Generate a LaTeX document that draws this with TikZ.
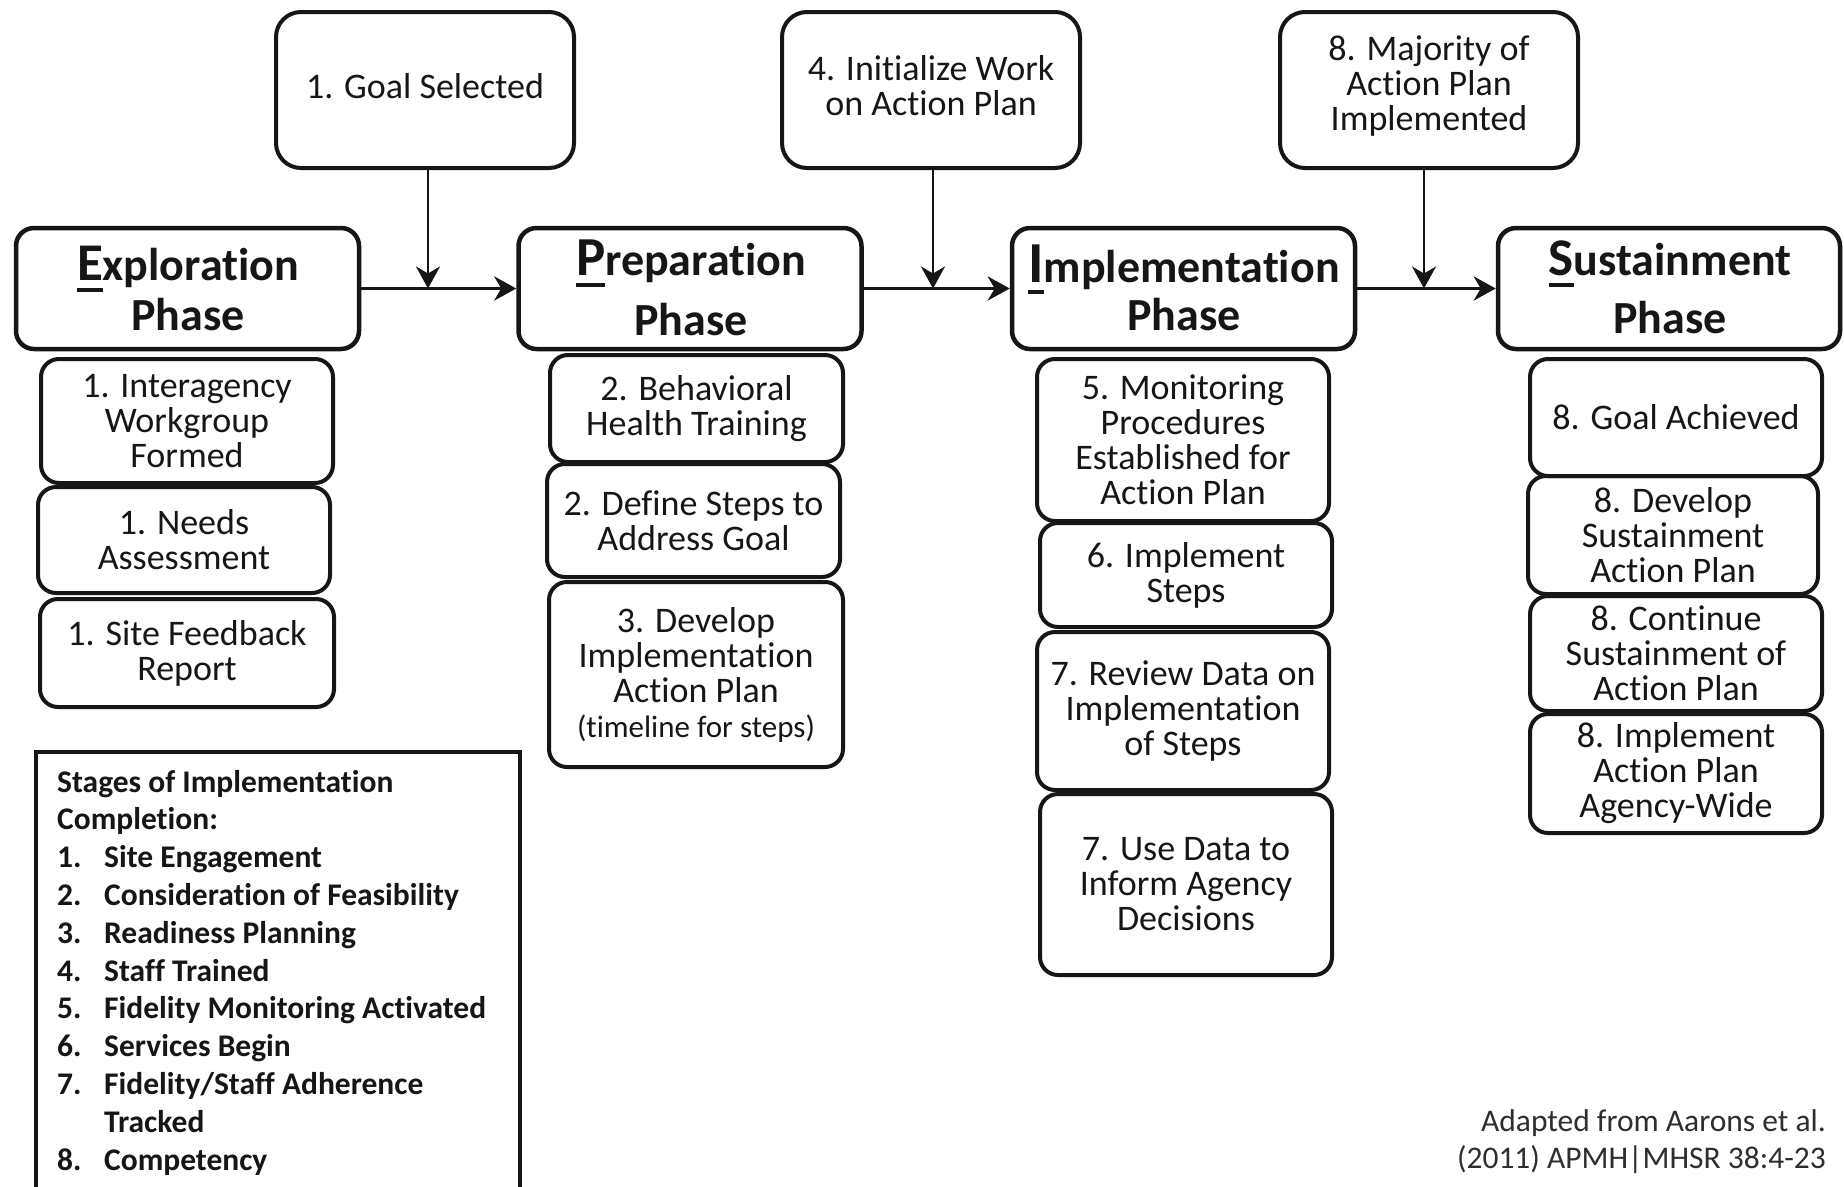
\documentclass[tikz,border=0pt]{standalone}
\usepackage{fontspec}
\setmainfont{Carlito}[Ligatures=NoCommon, Contextuals=NoAlternate]
\usetikzlibrary{arrows.meta,calc}

\definecolor{ink}{HTML}{161616}
\definecolor{note}{HTML}{2E2E2E}

% enlarged, underlined initial letter of a phase name
\newcommand\capletter[2]{\setbox0=\hbox{\fontsize{#1}{#1}\selectfont #2}\rlap{\rule[-12pt]{\wd0}{4pt}}\box0}

\begin{document}
\begin{tikzpicture}[x=1pt,y=-1pt,
  every node/.style={inner sep=0pt, text=ink},
  box/.style={draw=ink, line width=4pt, rounded corners=18pt, align=center,
    font=\fontsize{36}{35}\selectfont},
  topbox/.style={box, rounded corners=25pt, minimum width=298pt, minimum height=156pt},
  phase/.style={draw=ink, line width=4.5pt, rounded corners=18pt,
    minimum width=343pt, minimum height=121pt},
  phasetxt/.style={font=\fontsize{46}{46}\selectfont\bfseries, anchor=base},
  tip/.style={-{Stealth[length=22pt,width=24pt,inset=7pt]}},
  link/.style={draw=ink, line width=3.5pt, tip},
  drop/.style={draw=ink, line width=2.5pt, tip}
]
\fill[white] (0,0) rectangle (1844,1186);
\useasboundingbox (0,0) rectangle (1844,1186);

% milestone boxes along the top
\node[topbox] (g1) at (425,90) {};
\node[topbox] (g4) at (931,90) {};
\node[topbox] (g8) at (1429,90) {};
\node[box, draw=none] (g1t) at (425,86) {1. Goal Selected};
\node[box, draw=none] (g4t) at (931,86) {4. Initialize Work\\on Action Plan};
\node[box, draw=none] (g8t) at (1429,86) {8. Majority of\\Action Plan\\Implemented};

% the four phases
\node[phase] (ex) at (187.5,288.5) {};
\node[phase] (pr) at (690,288.5) {};
\node[phase] (im) at (1183.5,288.5) {};
\node[phase, minimum width=342pt] (su) at (1669,288.5) {};

\node[phasetxt] (ex1) at (188,280) {\capletter{53}{E}xploration};
\node[phasetxt] (ex2) at (188,330) {Phase};
\node[phasetxt] (pr1) at (691,275) {\capletter{55}{P}reparation};
\node[phasetxt] (pr2) at (691,335) {Phase};
\node[phasetxt] (im1) at (1184,282) {\capletter{58}{I}mplementation};
\node[phasetxt] (im2) at (1184,330) {Phase};
\node[phasetxt] (su1) at (1670,275) {\capletter{53}{S}ustainment};
\node[phasetxt] (su2) at (1670,333) {Phase};

% flow between phases
\draw[link] (ex) -- (pr);
\draw[link] (pr) -- (im);
\draw[link] (im) -- (su);

% milestones dropping onto the flow line
\coordinate (t1) at ($(g1.south)+(3,0)$);
\coordinate (t4) at ($(g4.south)+(2,0)$);
\coordinate (t8) at ($(g8.south)+(-5,0)$);
\coordinate (j1) at (t1 |- ex.east);
\coordinate (j4) at (t4 |- ex.east);
\coordinate (j8) at (t8 |- ex.east);
\draw[drop] (t1) -- (j1);
\draw[drop] (t4) -- (j4);
\draw[drop] (t8) -- (j8);

% Exploration activities
\node[box, minimum width=292pt, minimum height=124pt] (a1) at (187,421) {1. Interagency\\Workgroup\\Formed};
\node[box, minimum width=292pt, minimum height=106pt] (a2) at (184,540) {1. Needs\\Assessment};
\node[box, minimum width=294pt, minimum height=108pt] (a3) at (187,653) {1. Site Feedback\\Report};

% Preparation activities
\node[box, minimum width=293pt, minimum height=107pt] (b1) at (696.5,408.5) {2. Behavioral\\Health Training};
\node[box, minimum width=293pt, minimum height=113pt] (b2) at (693.5,520.5) {2. Define Steps to\\Address Goal};
\node[box, minimum width=294pt, minimum height=185pt] (b3) at (696,674.5) {3. Develop\\Implementation\\Action Plan\\{\fontsize{31}{33}\selectfont(timeline for steps)}};

% Implementation activities
\node[box, minimum width=292pt, minimum height=162pt] (c1) at (1183,440) {5. Monitoring\\Procedures\\Established for\\Action Plan};
\node[box, minimum width=292pt, minimum height=104pt] (c2) at (1186,575) {6. Implement\\Steps};
\node[box, minimum width=292pt, minimum height=158pt] (c3) at (1183,711) {7. Review Data on\\Implementation\\of Steps};
\node[box, minimum width=292pt, minimum height=181pt] (c4) at (1186,884.5) {7. Use Data to\\Inform Agency\\Decisions};

% Sustainment activities
\node[box, minimum width=292pt, minimum height=117pt] (d1) at (1676,417.5) {8. Goal Achieved};
\node[box, minimum width=290pt, minimum height=118pt] (d2) at (1673,535) {8. Develop\\Sustainment\\Action Plan};
\node[box, minimum width=292pt, minimum height=115pt] (d3) at (1676,653.5) {8. Continue\\Sustainment of\\Action Plan};
\node[box, minimum width=292pt, minimum height=119pt] (d4) at (1676,773.5) {8. Implement\\Action Plan\\Agency-Wide};

% legend of completion stages
\draw[ink, line width=4pt] (36,1200) -- (36,752) -- (520,752) -- (520,1200);
\node[anchor=base west, font=\fontsize{31.5}{37.8}\selectfont\bfseries] (legend) at (57,792) {%
  \begin{tabular}[t]{@{}p{47pt}@{}l@{}}
  \multicolumn{2}{@{}l@{}}{Stages of Implementation}\\
  \multicolumn{2}{@{}l@{}}{Completion:}\\
  1. & Site Engagement\\
  2. & Consideration of Feasibility\\
  3. & Readiness Planning\\
  4. & Staff Trained\\
  5. & Fidelity Monitoring Activated\\
  6. & Services Begin\\
  7. & Fidelity/Staff Adherence\\
     & Tracked\\
  8. & Competency
  \end{tabular}};

% source note
\node[anchor=base east, text=note, font=\fontsize{31.5}{37.6}\selectfont] (cite) at (1826,1131) {%
  \begin{tabular}[t]{@{}r@{}}Adapted from Aarons et al.\\(2011) APMH|MHSR 38:4-23\end{tabular}};
\end{tikzpicture}
\end{document}
